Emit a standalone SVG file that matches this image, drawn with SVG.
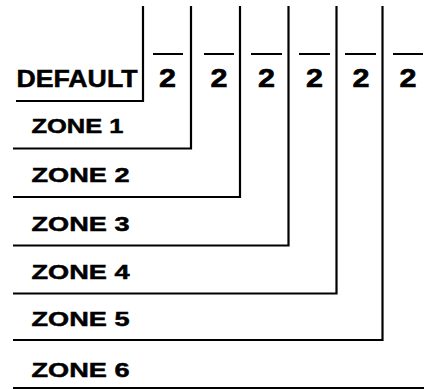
<svg xmlns="http://www.w3.org/2000/svg" width="424" height="389" viewBox="0 0 424 389">
<style>
  .ln{stroke:#000;stroke-width:2.2;fill:none;stroke-linecap:butt}
  .lbl{font-family:"Liberation Sans",Arial,sans-serif;font-weight:bold;font-size:20.5px;fill:#000;stroke:#000;stroke-width:0.5}
  .def{font-size:23.5px}
  .num{font-family:"Liberation Sans",Arial,sans-serif;font-weight:bold;font-size:26px;fill:#000;stroke:#000;stroke-width:0.6;text-anchor:middle}
</style>
<rect width="424" height="389" fill="#fff"/>
<g id="connectors">
  <path class="ln" d="M16,101 H143 V6"/>
  <path class="ln" d="M13,148.5 H191 V6"/>
  <path class="ln" d="M13,197 H240 V6"/>
  <path class="ln" d="M13,245.5 H288.5 V6"/>
  <path class="ln" d="M13,293.5 H336.5 V6"/>
  <path class="ln" d="M13,340 H382.5 V6"/>
  <path class="ln" d="M13,388 H424"/>
</g>
<g id="default"><text class="lbl def" x="16.5" y="86.5" textLength="121" lengthAdjust="spacingAndGlyphs">DEFAULT</text></g>
<g id="zone1"><text class="lbl" x="31.5" y="133" textLength="92" lengthAdjust="spacingAndGlyphs">ZONE 1</text></g>
<g id="zone2"><text class="lbl" x="31.5" y="182" textLength="98" lengthAdjust="spacingAndGlyphs">ZONE 2</text></g>
<g id="zone3"><text class="lbl" x="31.5" y="231" textLength="98" lengthAdjust="spacingAndGlyphs">ZONE 3</text></g>
<g id="zone4"><text class="lbl" x="31.5" y="279" textLength="98" lengthAdjust="spacingAndGlyphs">ZONE 4</text></g>
<g id="zone5"><text class="lbl" x="31.5" y="326" textLength="98" lengthAdjust="spacingAndGlyphs">ZONE 5</text></g>
<g id="zone6"><text class="lbl" x="31.5" y="376.5" textLength="98" lengthAdjust="spacingAndGlyphs">ZONE 6</text></g>
<g id="values">
  <path class="ln" d="M153,54 H183 M204,54 H234 M251,54 H282 M299,54 H330 M345,54 H376 M393,54 H423"/>
  <text class="num" x="167.5" y="86.5" textLength="17" lengthAdjust="spacingAndGlyphs">2</text>
  <text class="num" x="219" y="86.5" textLength="17" lengthAdjust="spacingAndGlyphs">2</text>
  <text class="num" x="266.5" y="86.5" textLength="17" lengthAdjust="spacingAndGlyphs">2</text>
  <text class="num" x="314.5" y="86.5" textLength="17" lengthAdjust="spacingAndGlyphs">2</text>
  <text class="num" x="361" y="86.5" textLength="17" lengthAdjust="spacingAndGlyphs">2</text>
  <text class="num" x="408" y="86.5" textLength="17" lengthAdjust="spacingAndGlyphs">2</text>
</g>
</svg>
